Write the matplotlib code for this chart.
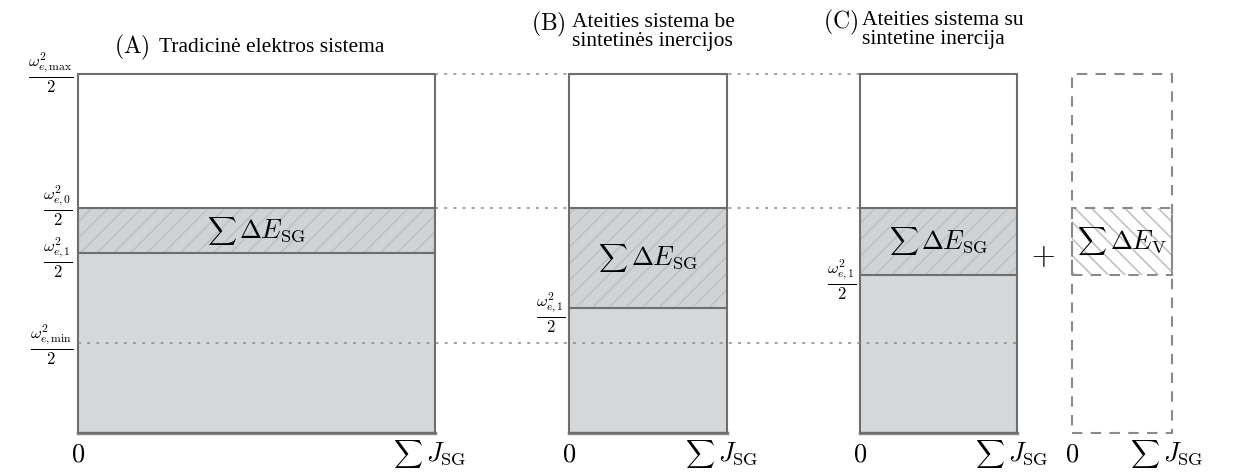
import matplotlib
matplotlib.use("Agg")
import matplotlib.pyplot as plt
from matplotlib.patches import Rectangle
from matplotlib.offsetbox import TextArea, HPacker, AnnotationBbox

plt.rcParams['mathtext.fontset'] = 'cm'
plt.rcParams['hatch.linewidth'] = 1.2

# ---- data (energy levels, normalised: bottom = 0, omega_max level = 1) ----
panel_names = ["A", "B", "C"]
panel_titles = ["Tradicinė elektros sistema",
                "Ateities sistema be\nsintetinės inercijos",
                "Ateities sistema su\nsintetine inercija"]
level_max = 1.0
level_0 = 0.627
level_min = 0.251
level_1 = [0.501, 0.348, 0.440]          # omega_{e,1} level for A, B, C
virtual_bottom = 0.440                    # lower edge of Delta E_V box
x_tick_labels = ["$0$", r"$J_{\mathrm{SG}}$"]
y_labels = [r"$\frac{\omega_{e,\max}^2}{2}$", r"$\frac{\omega_{e,0}^2}{2}$",
            r"$\frac{\omega_{e,1}^2}{2}$", r"$\frac{\omega_{e,\min}^2}{2}$"]
energy_labels = [r"$\Delta E_{\mathrm{SG}}$", r"$\Delta E_{\mathrm{V}}$"]

# ---- layout (x in figure pixels) ----
panel_left = [78, 569, 860]
panel_width = [357, 158, 157]
v_left, v_width = 1072, 100

W, H = 1234, 473
fig = plt.figure(figsize=(W / 100, H / 100), dpi=100)
ax = fig.add_axes([0, 0, 1, 1])
px = 359.0
ax.set_xlim(0, W)
ax.set_ylim(-40 / px, (H - 40) / px)
ax.axis("off")

edge = "#6e6e6e"
fill = "#d5d8db"
hfill = "#d0d3d6"
hatch_c = "#bfc2c5"
dot_kw = dict(color="#8a8a8a", lw=1.1, ls=(0, (2, 4)), zorder=1)


def sum_label(x, y, rest, fs_sum=14.5, fs_rest=19):
    ta1 = TextArea(r"$\sum$", textprops=dict(fontsize=fs_sum))
    ta2 = TextArea(rest, textprops=dict(fontsize=fs_rest))
    box = HPacker(children=[ta1, ta2], align="baseline", pad=0, sep=2)
    ab = AnnotationBbox(box, (x, y), xycoords="data", frameon=False,
                        box_alignment=(0.5, 0.5), pad=0, zorder=6)
    ax.add_artist(ab)


# dotted reference lines
ax.plot([panel_left[0] + panel_width[0], panel_left[2]], [level_max] * 2, **dot_kw)
ax.plot([panel_left[0] + panel_width[0], panel_left[2]], [level_0] * 2, **dot_kw)

tick_y = -21 / px
for i in range(3):
    x0, w = panel_left[i], panel_width[i]
    ax.add_patch(Rectangle((x0, 0), w, level_1[i], facecolor=fill, edgecolor="none", zorder=2))
    ax.add_patch(Rectangle((x0, level_1[i]), w, level_0 - level_1[i],
                           facecolor=hfill, edgecolor="none", zorder=2))
    ax.add_patch(Rectangle((x0, level_1[i]), w, level_0 - level_1[i],
                           facecolor="none", edgecolor=hatch_c, hatch="//", lw=0, zorder=3))
    ax.plot([x0, x0 + w], [level_1[i]] * 2, color=edge, lw=1.5, zorder=4)
    ax.plot([x0, x0 + w], [level_0] * 2, color=edge, lw=1.5, zorder=4)
    ax.plot([x0, x0 + w], [0, 0], color="#8c8c8c", lw=2.5, zorder=4)
    ax.add_patch(Rectangle((x0, 0), w, level_max, facecolor="none", edgecolor=edge, lw=1.5, zorder=5))
    sum_label(x0 + w / 2, (level_1[i] + level_0) / 2, energy_labels[0])
    ax.text(x0, tick_y, x_tick_labels[0], ha="center", va="center", fontsize=19)
    sum_label(x0 + w - 5, tick_y, x_tick_labels[1])

# omega_min dotted line over panels
ax.plot([panel_left[0], panel_left[2] + panel_width[2]], [level_min] * 2, **(dot_kw | {"zorder": 6}))

# y labels
fs_y = 17
ax.text(73, level_max + 0.005, y_labels[0], ha="right", va="center", fontsize=fs_y)
ax.text(73, level_0 + 0.005, y_labels[1], ha="right", va="center", fontsize=fs_y)
ax.text(73, level_1[0] - 0.012, y_labels[2], ha="right", va="center", fontsize=fs_y)
ax.text(73, level_min - 0.005, y_labels[3], ha="right", va="center", fontsize=fs_y)
ax.text(panel_left[1] - 3, level_1[1] - 0.012, y_labels[2], ha="right", va="center", fontsize=fs_y)
ax.text(panel_left[2] - 3, level_1[2] - 0.012, y_labels[2], ha="right", va="center", fontsize=fs_y)

# virtual inertia panel
dash_kw = dict(facecolor="none", edgecolor="#8a8a8a", lw=1.5, ls=(0, (5, 4)))
ax.add_patch(Rectangle((v_left, 0), v_width, level_max, zorder=5, **dash_kw))
ax.add_patch(Rectangle((v_left, virtual_bottom), v_width, level_0 - virtual_bottom,
                       facecolor="white", edgecolor="none", zorder=3))
ax.add_patch(Rectangle((v_left, virtual_bottom), v_width, level_0 - virtual_bottom,
                       facecolor="none", edgecolor=hatch_c, hatch="\\\\", lw=0, zorder=4))
ax.add_patch(Rectangle((v_left, virtual_bottom), v_width, level_0 - virtual_bottom, zorder=5, **dash_kw))
sum_label(v_left + v_width / 2, (virtual_bottom + level_0) / 2, energy_labels[1])
ax.text(v_left, tick_y, x_tick_labels[0], ha="center", va="center", fontsize=19)
sum_label(v_left + v_width - 5, tick_y, x_tick_labels[1])
ax.text(1043, (virtual_bottom + level_0) / 2 - 0.04, "$+$", ha="center", va="center", fontsize=22)

# titles
serif = ["Liberation Serif", "DejaVu Serif"]
fs_t = 15.5
ax.text(150, (433 - 47) / px, r"$(\mathrm{A})$", ha="right", va="center", fontsize=17)
ax.text(159, (433 - 47) / px, panel_titles[0], ha="left", va="center", fontsize=fs_t, family=serif)
ax.text(566, (433 - 24) / px, r"$(\mathrm{B})$", ha="right", va="center", fontsize=17)
ax.text(572, (433 - 32) / px, panel_titles[1], ha="left", va="center", fontsize=fs_t,
        family=serif, linespacing=1.05)
ax.text(858, (433 - 22) / px, r"$(\mathrm{C})$", ha="right", va="center", fontsize=17)
ax.text(862, (433 - 30) / px, panel_titles[2], ha="left", va="center", fontsize=fs_t,
        family=serif, linespacing=1.05)

fig.savefig("out.png", dpi=100)
